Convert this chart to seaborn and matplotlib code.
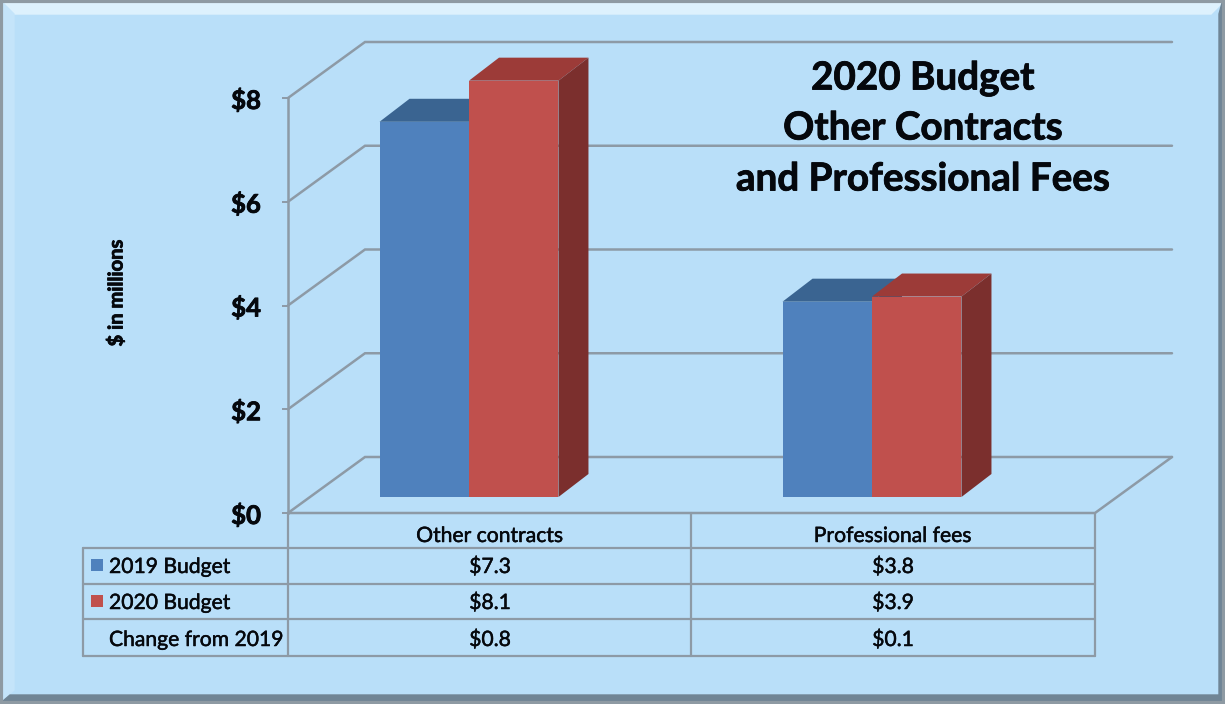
import numpy as np
import pandas as pd
import seaborn as sns
from matplotlib import pyplot as plt
from matplotlib import patheffects as pe
from matplotlib.patches import Polygon, Rectangle

categories = ['Other contracts', 'Professional fees']
budget_2019 = [7.3, 3.8]
budget_2020 = [8.1, 3.9]
change = [0.8, 0.1]
series_names = ['2019 Budget', '2020 Budget']
y_ticks = [0, 2, 4, 6, 8]
title_lines = ['2020 Budget', 'Other Contracts', 'and Professional Fees']

W, H = 1225, 704
BLUE, RED = '#4F81BD', '#C0504D'
TOPS = {BLUE: '#3A6491', RED: '#9C3B38'}
SIDES = {BLUE: '#37597F', RED: '#7B2F2D'}
LINE = '#8D9AA6'
TXT = '#05080D'
HEAVY = [pe.withStroke(linewidth=0.6, foreground=TXT)]

sns.set_theme(style='white')
plt.rcParams['font.family'] = ['Lato', 'DejaVu Sans']

fig = plt.figure(figsize=(W / 100, H / 100), dpi=100, facecolor='#B9DFF9')


def px_axes(left, top, right, bottom, z):
    ax = fig.add_axes([left / W, 1 - bottom / H, (right - left) / W, (bottom - top) / H], zorder=z)
    ax.patch.set_alpha(0)
    return ax


# panel with bevelled frame, in pixels
bg = px_axes(0, 0, W, H, 0)
bg.set_xlim(0, W)
bg.set_ylim(H, 0)
bg.axis('off')
bg.add_patch(Rectangle((0, 0), W, H, color='#B9DFF9'))
bg.add_patch(Polygon([(3, 3), (W - 3, 3), (W - 14, 14), (14, 14)], color='#DDF1FD'))
bg.add_patch(Polygon([(3, 3), (14, 14), (14, H - 14), (3, H - 4)], color='#C4E4FA'))
bg.add_patch(Polygon([(W - 3, 3), (W - 6, 14), (W - 6, H - 8), (W - 3, H - 3)], color='#6F8596'))
bg.add_patch(Polygon([(3, H - 3), (10, H - 9), (W - 6, H - 9), (W - 3, H - 3)], color='#708595'))
bg.add_patch(Rectangle((1, 1), W - 2, H - 2, fill=False, ec='#8E9AA3', lw=3))

# walls and floor, value axis on its own scale
wall = px_axes(288, 98, 1095, 513, 1)
wall.set_xlim(288, 1095)
wall.set_ylim(0, 8)
wall.set_xticks([])
wall.set_yticks(y_ticks)
wall.set_yticklabels([f'${v}' for v in y_ticks], fontsize=18.5, fontweight='bold', color=TXT,
                     path_effects=HEAVY)
wall.tick_params(axis='y', length=4.5, width=1.4, color=LINE, left=True, pad=15)
for s in ['top', 'right', 'bottom']:
    wall.spines[s].set_visible(False)
wall.spines['left'].set_color(LINE)
wall.spines['left'].set_linewidth(1.8)
wall.set_ylabel('$ in millions', fontsize=14.5, fontweight='bold', color=TXT, va='center',
                path_effects=HEAVY)
wall.yaxis.set_label_coords((116 - 288) / (1095 - 288), 0.53)
depth_x, depth_y = 77, 56 / 51.875
for v in y_ticks:
    wall.plot([288, 288 + depth_x, 1172], [v, v + depth_y, v + depth_y],
              color=LINE, lw=1.8, clip_on=False, solid_joinstyle='miter')
wall.plot([288, 1095, 1172], [0, 0, depth_y], color=LINE, lw=1.8, clip_on=False)

# bars
df = pd.DataFrame({
    'cat': categories * 2,
    'val': budget_2019 + budget_2020,
    'series': [series_names[0]] * 2 + [series_names[1]] * 2,
})
bar_ax = px_axes(267.5, 497 - 9 * 51.4, 1073.5, 497, 2)
sns.barplot(data=df, x='cat', y='val', hue='series', hue_order=series_names,
            palette=[BLUE, RED], width=0.444, saturation=1, legend=False,
            linewidth=0, ax=bar_ax)
bar_ax.set_xlim(-0.5, 1.5)
bar_ax.set_ylim(0, 9)
bar_ax.axis('off')

dx, dy = 30 / 403, 23 / 51.4
colors = [BLUE, BLUE, RED, RED]
for p, c in zip(bar_ax.patches, colors):
    x0, x1 = p.get_x(), p.get_x() + p.get_width()
    h = p.get_height()
    bar_ax.add_patch(Polygon([(x0, h), (x1, h), (x1 + dx, h + dy), (x0 + dx, h + dy)],
                             color=TOPS[c], lw=0, zorder=1, clip_on=False))
    bar_ax.add_patch(Polygon([(x1, 0), (x1 + dx, dy), (x1 + dx, h + dy), (x1, h)],
                             color=SIDES[c], lw=0, zorder=1, clip_on=False))
    p.set_zorder(2 if c == BLUE else 3)

# title and data table on top
top = px_axes(0, 0, W, H, 3)
top.set_xlim(0, W)
top.set_ylim(H, 0)
top.axis('off')
for line, y in zip(title_lines, [78, 128, 179]):
    top.text(923, y, line, ha='center', va='center', fontsize=27.8, fontweight='bold', color=TXT,
             path_effects=HEAVY)

for y in [548, 584, 619, 656]:
    top.plot([83, 1095], [y, y], color=LINE, lw=1.6)
top.plot([83, 83], [548, 656], color=LINE, lw=1.6)
top.plot([288, 288], [513, 656], color=LINE, lw=1.6)
top.plot([691, 691], [513, 656], color=LINE, lw=1.6)
top.plot([1095, 1095], [513, 656], color=LINE, lw=1.6)

col_x = [490, 893]
row_y = [567, 603, 640]
rows = [[f'${v}' for v in budget_2019], [f'${v}' for v in budget_2020], [f'${v}' for v in change]]
TBL = dict(fontsize=15.2, color=TXT, path_effects=[pe.withStroke(linewidth=0.35, foreground=TXT)])
for x, name in zip(col_x, categories):
    top.text(x, 536, name, ha='center', va='center', **TBL)
for y, row in zip(row_y, rows):
    for x, s in zip(col_x, row):
        top.text(x, y, s, ha='center', va='center', **TBL)
for y, name, c in zip(row_y, series_names, [BLUE, RED]):
    top.add_patch(Rectangle((91, y - 8), 12, 12, color=c, lw=0))
    top.text(109, y, name, ha='left', va='center', **TBL)
top.text(109, 640, 'Change from 2019', ha='left', va='center', **TBL)

plt.savefig('out.png', dpi=100)
